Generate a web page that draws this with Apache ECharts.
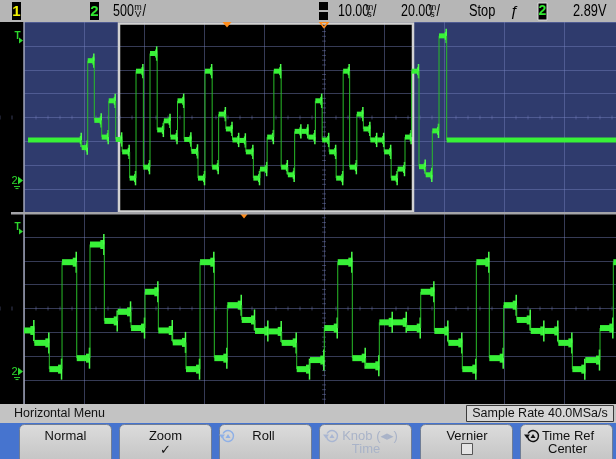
<!DOCTYPE html>
<html>
<head>
<meta charset="utf-8">
<script src="https://cdn.jsdelivr.net/npm/echarts@6/dist/echarts.min.js"></script>
<style>
  html, body { margin: 0; padding: 0; background: #000; }
  #scope { width: 616px; height: 459px; }
</style>
</head>
<body>
<div id="scope"></div>
<script>
// Channel 2 record: start of every plateau (ms from trigger) and its level (V)
const stepStart = [
  -66.33, -48.43, -46.43, -44.23, -41.77, -39.43, -37.10, -34.95, -32.45, -30.33,
  -27.88, -25.67, -23.28, -21.05, -18.83, -16.50, -14.28, -11.88, -9.67, -7.33,
  -4.95, -2.78, -0.38, 1.83, 4.05, 6.28, 8.78, 11.00, 13.38, 15.62,
  18.05, 20.28, 22.55, 24.78, 27.12, 29.45, 31.72, 34.05, 36.38, 38.72,
  40.88, 43.28, 45.45, 47.78, 50.05, 52.38, 54.72, 56.88, 59.33, 61.55,
  64.00, 66.23, 68.43, 70.67, 73.23
];
const stepLevel = [
  0.83, 0.67, 2.49, 1.24, 0.89, 1.65, 0.84, 0.58, 0.03, 2.27,
  0.26, 2.64, 1.04, 1.23, 0.89, 1.65, 0.84, 0.59, 0.03, 2.27,
  0.26, 1.37, 1.06, 0.83, 0.82, 0.58, 0.03, 0.22, 0.89, 2.27,
  0.26, 0.10, 1.01, 1.01, 0.89, 1.65, 0.83, 0.58, 0.03, 2.27,
  0.26, 1.37, 1.06, 0.83, 0.83, 0.58, 0.03, 0.22, 0.89, 2.27,
  0.27, 0.10, 1.02, 3.01, 0.83
];

// Timebases and vertical scale
const overviewTime = [-67.67, 132.33];   // 20 ms/div, 10 divisions
const zoomTime = [-36.67, 63.33];        // 10 ms/div, 10 divisions
const voltRange = [-0.7, 3.3];           // 500 mV/div, 8 divisions
const triggerLevel = 2.89;
const groundLevel = 0;
const triggerTime = 0;

const GREEN = '#38f238';
const EDGE = '#28bc28';
const GRID = 'rgba(120,130,190,0.45)';
const SHADE = '#2f3b6d';
const ORANGE = '#ff8c1a';
const FONT = '"Liberation Sans", "DejaVu Sans", sans-serif';

const last = stepStart.length - 1;
const steps = stepStart.map((t, i) => [
  t,
  i < last ? stepStart[i + 1] : overviewTime[1],
  stepLevel[i],
  i > 0 ? stepLevel[i - 1] : stepLevel[i]
]);

// Plateau band, edge from the previous level and a ringing burst at its end
function traceRenderer(band, ring, head) {
  return function (params, api) {
    const cs = params.coordSys;
    const left = cs.x, right = cs.x + cs.width;
    const t0 = api.value(0), t1 = api.value(1), lv = api.value(2), pv = api.value(3);
    const a = api.coord([t0, lv]);
    const b = api.coord([t1, lv]);
    if (b[0] < left || a[0] > right) return null;
    const kids = [];
    if (params.dataIndex > 0 && a[0] >= left) {
      const p = api.coord([t0, pv]);
      kids.push({ type: 'line', shape: { x1: a[0], y1: p[1], x2: a[0], y2: a[1] },
        style: { stroke: EDGE, lineWidth: 1 } });
    }
    const x0 = Math.max(a[0], left), x1 = Math.min(b[0], right);
    kids.push({ type: 'rect', shape: { x: x0, y: a[1] - band / 2, width: x1 - x0, height: band },
      style: { fill: GREEN } });
    if (params.dataIndex < last && b[0] <= right) {
      const hi = api.coord([t1, lv + ring]), lo = api.coord([t1, lv - ring]);
      kids.push({ type: 'rect', shape: { x: b[0] - head, y: a[1] - band / 2 - 1.5, width: head, height: band + 3 },
        style: { fill: GREEN } });
      kids.push({ type: 'line', shape: { x1: b[0] - 0.5, y1: hi[1], x2: b[0] - 0.5, y2: lo[1] },
        style: { stroke: '#4cff4c', lineWidth: 1.5 } });
    }
    return { type: 'group', children: kids };
  };
}

// Minor ticks along both centre lines of a graticule (division units)
function tickRenderer(params, api) {
  const kids = [];
  const c = api.coord([0, 0]);
  for (let k = -50; k <= 50; k++) {
    if (k % 5 === 0) continue;
    const p = api.coord([k / 5, 0]);
    kids.push({ type: 'line', shape: { x1: p[0], y1: c[1] - 2, x2: p[0], y2: c[1] + 2 }, style: { stroke: GRID, lineWidth: 1 } });
  }
  for (let k = -20; k <= 20; k++) {
    if (k % 5 === 0) continue;
    const p = api.coord([0, k / 5]);
    kids.push({ type: 'line', shape: { x1: c[0] - 2, y1: p[1], x2: c[0] + 2, y2: p[1] }, style: { stroke: GRID, lineWidth: 1 } });
  }
  return { type: 'group', children: kids };
}

// Channel markers at the left edge: trigger level "T" and ground "2"
function channelMarkRenderer(params, api) {
  const cs = params.coordSys;
  const lv = api.value(1), kind = api.value(2);
  const y = api.coord([api.value(0), lv])[1];
  const ex = cs.x - 1;
  if (kind === 0) {
    return { type: 'group', children: [
      { type: 'text', style: { text: 'T', x: 17.5, y: y - 5, fill: '#2ed82e', font: 'bold 10px ' + FONT,
        align: 'center', verticalAlign: 'middle', textAlign: 'center', textVerticalAlign: 'middle' } },
      { type: 'polygon', shape: { points: [[ex - 4, y - 4], [ex, y - 1], [ex - 4, y + 2]] }, style: { fill: '#2ed82e' } }
    ]};
  }
  return { type: 'group', children: [
    { type: 'text', style: { text: '2', x: 14.5, y: y + 1, fill: '#2ed82e', font: '11px ' + FONT,
      align: 'center', verticalAlign: 'middle', textAlign: 'center', textVerticalAlign: 'middle' } },
    { type: 'polygon', shape: { points: [[ex - 5, y - 3], [ex, y + 1], [ex - 5, y + 5]] }, style: { fill: '#2ed82e' } },
    { type: 'line', shape: { x1: 14, y1: y + 7, x2: 20, y2: y + 7 }, style: { stroke: '#2ed82e', lineWidth: 1 } },
    { type: 'line', shape: { x1: 15.5, y1: y + 9, x2: 18.5, y2: y + 9 }, style: { stroke: '#2ed82e', lineWidth: 1 } }
  ]};
}

// Orange trigger-position marker at the top of a panel
function triggerMarkRenderer(params, api) {
  const p = api.coord([api.value(0), voltRange[1]]);
  return { type: 'polygon', shape: { points: [[p[0] - 4.5, p[1]], [p[0] + 4.5, p[1]], [p[0], p[1] + 5.5]] },
    style: { fill: ORANGE } };
}

const divX = (grid) => ({ type: 'value', gridIndex: grid, min: -5, max: 5, interval: 1, z: 2,
  axisLine: { show: false }, axisTick: { show: false }, axisLabel: { show: false },
  splitLine: { show: true, lineStyle: { color: GRID, width: 1 } } });
const divY = (grid) => ({ type: 'value', gridIndex: grid, min: -4, max: 4, interval: 1, z: 2,
  axisLine: { show: true, onZero: false, lineStyle: { color: '#9ea2b4', width: 1.5 } },
  axisTick: { show: false }, axisLabel: { show: false },
  splitLine: { show: true, lineStyle: { color: GRID, width: 1 } } });
const dataX = (grid, range) => ({ type: 'value', gridIndex: grid, min: range[0], max: range[1], show: false });
const dataY = (grid) => ({ type: 'value', gridIndex: grid, min: voltRange[0], max: voltRange[1], show: false });

// ---- status line and softkey menu ----
const txt = (x, y, text, o = {}) => ({
  type: 'text', x, y, scaleX: o.sx || 1, z: 100, silent: true,
  style: { text, fill: o.fill || '#000', font: o.font || ('16px ' + FONT),
    align: o.align || 'left', textAlign: o.align || 'left', verticalAlign: 'middle', textVerticalAlign: 'middle' }
});
const box = (x, y, w, h, fill, o = {}) => ({
  type: 'rect', z: o.z || 99, silent: true, shape: { x, y, width: w, height: h, r: o.r || 0 },
  style: { fill, stroke: o.stroke || null, lineWidth: o.lw || 1 }
});
const stacked = (x, top, bottom) => [
  txt(x, 7.5, top, { font: '9px ' + FONT, align: 'center' }),
  txt(x, 15, bottom, { font: '9px ' + FONT, align: 'center' })
];
const cycleIcon = (cx, cy, color) => [
  { type: 'arc', z: 101, silent: true, shape: { cx, cy, r: 5.5, startAngle: -Math.PI * 0.85, endAngle: Math.PI * 0.95, clockwise: true },
    style: { stroke: color, lineWidth: 1.5, fill: null } },
  { type: 'polygon', z: 101, silent: true, shape: { points: [[cx - 9, cy - 1.5], [cx - 3, cy - 1.5], [cx - 6, cy + 2.5]] }, style: { fill: color } },
  { type: 'polygon', z: 101, silent: true, shape: { points: [[cx - 2.5, cy + 2], [cx + 2.5, cy + 2], [cx, cy - 2]] }, style: { fill: color } }
];
const softkey = (x, w) => ({
  type: 'rect', z: 99, silent: true, shape: { x, y: 424.5, width: w, height: 40, r: 5 },
  style: { fill: new echarts.graphic.LinearGradient(0, 0, 0, 1, [
    { offset: 0, color: '#dcdcdc' }, { offset: 1, color: '#c2c2c2' }]), stroke: '#6f7d96', lineWidth: 1 }
});

const graphics = [
  // status line
  box(0, 0, 616, 22, '#b6b6b6'),
  box(12, 2, 9, 18, '#000'), txt(16.5, 11.5, '1', { fill: '#f2f200', font: 'bold 15px ' + FONT, align: 'center' }),
  box(90, 2, 9, 18, '#000'), txt(94.5, 11.5, '2', { fill: '#30e830', font: 'bold 15px ' + FONT, align: 'center' }),
  txt(113, 12, '500', { sx: 0.78 }), ...stacked(138, 'm', 'V'), txt(142.5, 12, '/', { sx: 0.78 }),
  box(319, 2, 9, 8, '#000'), box(319, 12, 9, 8, '#000'),
  txt(338, 12, '10.00', { sx: 0.78 }), ...stacked(369.5, 'm', 's'), txt(373, 12, '/', { sx: 0.78 }),
  txt(401, 12, '20.00', { sx: 0.78 }), ...stacked(432.5, 'm', 's'), txt(436.5, 12, '/', { sx: 0.78 }),
  txt(469, 12, 'Stop', { sx: 0.8 }),
  txt(514, 12, 'ƒ', { font: 'italic 15px ' + FONT, align: 'center' }),
  box(538, 3, 9, 17, '#000', { stroke: '#dcdcdc' }), txt(542.5, 11.5, '2', { fill: '#30e830', font: 'bold 14px ' + FONT, align: 'center' }),
  txt(573, 12, '2.89V', { sx: 0.8 }),
  // panel separator
  box(11, 212, 605, 2.5, '#a4a4a8', { z: 60 }),
  // menu title bar
  box(0, 404, 616, 20, '#c3c3c3'),
  txt(14, 414, 'Horizontal Menu', { font: '12.5px ' + FONT, fill: '#111' }),
  box(466.5, 405.5, 147, 16, '#d6d6d6', { stroke: '#3a3a3a' }),
  txt(540, 414, 'Sample Rate 40.0MSa/s', { font: '12.5px ' + FONT, fill: '#111', align: 'center' }),
  // softkeys
  box(0, 423, 616, 36, '#4674cf'),
  softkey(19.5, 92), softkey(119.5, 92), softkey(219.5, 92), softkey(319.5, 92), softkey(420.5, 92), softkey(520.5, 92),
  txt(65.5, 436, 'Normal', { font: '13px ' + FONT, align: 'center', fill: '#111' }),
  txt(165.5, 436, 'Zoom', { font: '13px ' + FONT, align: 'center', fill: '#111' }),
  txt(165.5, 451, '✓', { font: '13px "DejaVu Sans", sans-serif', align: 'center', fill: '#111' }),
  ...cycleIcon(228, 436, '#8fb0e6'),
  txt(263.5, 436, 'Roll', { font: '13px ' + FONT, align: 'center', fill: '#111' }),
  ...cycleIcon(332, 436, '#a9b6d2'),
  txt(370, 436, 'Knob (◂▸)', { font: '13px ' + FONT, align: 'center', fill: '#a9b3c8' }),
  txt(366, 449.5, 'Time', { font: '13px ' + FONT, align: 'center', fill: '#a9b3c8' }),
  txt(467, 436, 'Vernier', { font: '13px ' + FONT, align: 'center', fill: '#111' }),
  { type: 'rect', z: 101, silent: true, shape: { x: 461.5, y: 443.5, width: 11, height: 11 },
    style: { fill: '#e4e4e4', stroke: '#555', lineWidth: 1 } },
  ...cycleIcon(533, 436, '#111'),
  txt(568, 436, 'Time Ref', { font: '13px ' + FONT, align: 'center', fill: '#111' }),
  txt(567.5, 449.5, 'Center', { font: '13px ' + FONT, align: 'center', fill: '#111' })
];

const chart = echarts.init(document.getElementById('scope'), null, { renderer: 'canvas' });
chart.setOption({
  backgroundColor: '#000',
  animation: false,
  grid: [
    { left: 24, top: 22, width: 600, height: 191, outerBoundsMode: 'none', containLabel: false },
    { left: 24, top: 213, width: 600, height: 191, outerBoundsMode: 'none', containLabel: false }
  ],
  xAxis: [divX(0), divX(1), dataX(0, overviewTime), dataX(1, zoomTime)],
  yAxis: [divY(0), divY(1), dataY(0), dataY(1)],
  graphic: { elements: graphics },
  series: [
    { // shaded overview with the zoomed interval left black
      type: 'custom', name: 'zoomWindow', xAxisIndex: 2, yAxisIndex: 2, z: 1, silent: true,
      encode: { x: [0, 1], y: 2 },
      data: [[zoomTime[0], zoomTime[1], 1.3]],
      renderItem(params, api) {
        const cs = params.coordSys;
        const a = api.coord([api.value(0), voltRange[1]]);
        const b = api.coord([api.value(1), voltRange[0]]);
        return { type: 'group', children: [
          { type: 'rect', shape: { x: cs.x, y: cs.y, width: cs.width, height: cs.height }, style: { fill: SHADE } },
          { type: 'rect', shape: { x: a[0] + 1, y: cs.y, width: b[0] - a[0] - 4, height: cs.height }, style: { fill: '#000' } }
        ]};
      }
    },
    {
      type: 'custom', name: 'zoomFrame', xAxisIndex: 2, yAxisIndex: 2, z: 3, silent: true,
      encode: { x: [0, 1], y: 2 },
      data: [[zoomTime[0], zoomTime[1], 1.3]],
      renderItem(params, api) {
        const cs = params.coordSys;
        const a = api.coord([api.value(0), voltRange[1]]);
        const b = api.coord([api.value(1), voltRange[0]]);
        return { type: 'rect', shape: { x: a[0] + 2, y: cs.y + 1.5, width: b[0] - a[0] - 6, height: cs.height - 3 },
          style: { fill: null, stroke: '#d2d2d2', lineWidth: 2.5 } };
      }
    },
    { type: 'custom', name: 'ticksTop', xAxisIndex: 0, yAxisIndex: 0, z: 3, silent: true, data: [[0, 0]], renderItem: tickRenderer },
    { type: 'custom', name: 'ticksBottom', xAxisIndex: 1, yAxisIndex: 1, z: 3, silent: true, data: [[0, 0]], renderItem: tickRenderer },
    { // screen-centre reference marker
      type: 'custom', name: 'timeRef', xAxisIndex: 0, yAxisIndex: 0, z: 6, silent: true, data: [[0, 4]],
      renderItem(params, api) {
        const p = api.coord([0, 4]);
        return { type: 'polygon', shape: { points: [[p[0] - 4, p[1] + 0.5], [p[0] + 4, p[1] + 0.5], [p[0], p[1] + 5.5]] },
          style: { fill: null, stroke: ORANGE, lineWidth: 1.5 } };
      }
    },
    { type: 'custom', name: 'trigTop', xAxisIndex: 2, yAxisIndex: 2, z: 6, silent: true,
      data: [[triggerTime, voltRange[1]]], renderItem: triggerMarkRenderer },
    { type: 'custom', name: 'trigBottom', xAxisIndex: 3, yAxisIndex: 3, z: 6, silent: true,
      data: [[triggerTime, voltRange[1]]], renderItem: triggerMarkRenderer },
    { type: 'custom', name: 'overview', xAxisIndex: 2, yAxisIndex: 2, z: 5, silent: true,
      encode: { x: [0, 1], y: 2 }, data: steps, renderItem: traceRenderer(5, 0.15, 2) },
    { type: 'custom', name: 'zoomed', xAxisIndex: 3, yAxisIndex: 3, z: 5, silent: true,
      encode: { x: [0, 1], y: 2 }, data: steps, renderItem: traceRenderer(6, 0.22, 4) },
    { type: 'custom', name: 'ch2MarksTop', xAxisIndex: 2, yAxisIndex: 2, z: 6, silent: true,
      encode: { x: 0, y: 1 },
      data: [[overviewTime[0], triggerLevel, 0], [overviewTime[0], groundLevel, 1]], renderItem: channelMarkRenderer },
    { type: 'custom', name: 'ch2MarksBottom', xAxisIndex: 3, yAxisIndex: 3, z: 6, silent: true,
      encode: { x: 0, y: 1 },
      data: [[zoomTime[0], triggerLevel, 0], [zoomTime[0], groundLevel, 1]], renderItem: channelMarkRenderer }
  ]
});
</script>
</body>
</html>
